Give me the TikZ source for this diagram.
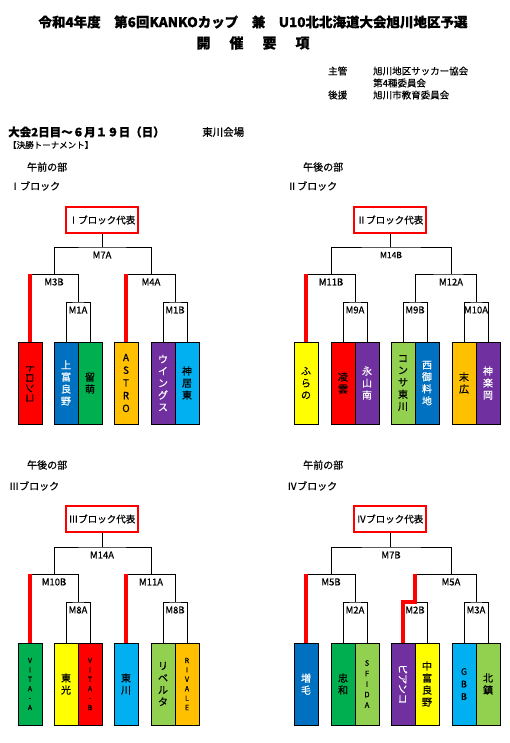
\documentclass[tikz,border=0pt]{standalone}
\usepackage{fontspec}
\setmainfont{Noto Sans CJK JP}[FakeBold=0.6]
\usepackage{graphicx}
\usepackage{tikz}
\definecolor{cred}{HTML}{FF0000}
\definecolor{cblue}{HTML}{0070C0}
\definecolor{cgreen}{HTML}{00B050}
\definecolor{corange}{HTML}{FFC000}
\definecolor{cpurple}{HTML}{7030A0}
\definecolor{ccyan}{HTML}{00B0F0}
\definecolor{cyellow}{HTML}{FFFF00}
\definecolor{clime}{HTML}{92D050}
\tikzset{
  ln/.style={line width=0.8pt,black},
  win/.style={line width=3.2pt,cred},
  team/.style={draw=black,line width=0.8pt,minimum width=24pt,minimum height=82pt,inner sep=0pt,align=center,font=\fontsize{10}{12}\selectfont},
  tw/.style={text=white},
  rep/.style={draw=cred,line width=2.6pt,minimum width=72pt,minimum height=26pt,inner sep=0pt,font=\fontsize{9.5}{11}\selectfont},
  mlab/.style={font=\fontsize{9.5}{11}\selectfont,yshift=-8pt,inner sep=0pt},
  hd/.style={anchor=west,inner sep=0pt,font=\fontsize{10}{12}\selectfont}
}
\begin{document}
\begin{tikzpicture}[x=1pt,y=-1pt]
\useasboundingbox (0,0) rectangle (510,743);
% heading
\node[font=\fontsize{13.5}{16}\bfseries] (title) at (253,22) {令和4年度　第6回KANKOカップ　兼　U10北北海道大会旭川地区予選};
\node[font=\fontsize{14}{16}\bfseries] (yoko) at (253,43) {開\hspace{19pt}催\hspace{19pt}要\hspace{19pt}項};
\node[hd,font=\fontsize{9.5}{11}\selectfont] (shukan) at (328,71) {主管};
\node[hd,font=\fontsize{9.5}{11}\selectfont] (kyokai) at (373,71) {旭川地区サッカー協会};
\node[hd,font=\fontsize{9.5}{11}\selectfont] (iinkai) at (373,83) {第4種委員会};
\node[hd,font=\fontsize{9.5}{11}\selectfont] (koen) at (328,95) {後援};
\node[hd,font=\fontsize{9.5}{11}\selectfont] (kyoiku) at (373,95) {旭川市教育委員会};
\node[hd,font=\fontsize{11.5}{13}\bfseries] (day) at (8,132) {大会2日目～６月１９日（日）};
\node[hd,font=\fontsize{10.5}{12}\selectfont] (venue) at (202,132) {東川会場};
\node[hd,font=\fontsize{8.5}{10}\selectfont] (kessho) at (8,145) {【決勝トーナメント】};
\node[hd] (am1) at (27,167) {午前の部};
\node[hd] (blk1) at (10,186) {Ⅰブロック};
\node[hd] (pm2) at (303,167) {午後の部};
\node[hd] (blk2) at (287,186) {Ⅱブロック};
\node[hd] (pm3) at (27,465) {午後の部};
\node[hd] (blk3) at (9,486) {Ⅲブロック};
\node[hd] (am4) at (303,465) {午前の部};
\node[hd] (blk4) at (287,486) {Ⅳブロック};

% I block
\node[rep] (rep1) at (102,220) {Ⅰブロック代表};
\node[team,fill=cred] (tronco) at (30,383) {\rotatebox{-90}{トロンコ}};
\node[team,fill=cblue,tw] (kamif) at (66,383) {上\\富\\良\\野};
\node[team,fill=cgreen] (rumoi) at (90,383) {留\\萌};
\node[team,fill=corange,font=\fontsize{10}{12.7}\selectfont] (astro) at (126,383) {A\\S\\T\\R\\O};
\node[team,fill=cpurple,tw] (wings) at (163,383) {ウ\\イ\\ン\\グ\\ス};
\node[team,fill=ccyan] (kamui) at (187,383) {神\\居\\東};
\coordinate (m1a) at (78,302);
\coordinate (m1b) at (175,302);
\coordinate (m3b) at (54,274);
\coordinate (m4a) at (151,274);
\coordinate (m7a) at (102,247);
\draw[ln] (kamif.north) |- (m1a) -| (rumoi.north);
\draw[ln] (wings.north) |- (m1b) -| (kamui.north);
\draw[ln] (tronco.north |- m3b) -| (m1a);
\draw[ln] (astro.north |- m4a) -| (m1b);
\draw[ln] (m3b) |- (m7a) -| (m4a);
\draw[ln] (rep1.south) -- (rep1.south |- m7a);
\draw[win] (tronco.north) -- (tronco.north |- m3b);
\draw[win] (astro.north) -- (astro.north |- m4a);
\node[mlab] (l1a) at (m1a) {M1A};
\node[mlab] (l1b) at (m1b) {M1B};
\node[mlab] (l3b) at (m3b) {M3B};
\node[mlab] (l4a) at (m4a) {M4A};
\node[mlab] (l7a) at (m7a) {M7A};

% II block
\node[rep] (rep2) at (390,220) {Ⅱブロック代表};
\node[team,fill=cyellow] (furano) at (306,383) {ふ\\ら\\の};
\node[team,fill=cred] (ryoun) at (343,383) {凌\\雲};
\node[team,fill=cpurple,tw] (nagayama) at (367,383) {永\\山\\南};
\node[team,fill=clime] (consa) at (403,383) {コ\\ン\\サ\\東\\川};
\node[team,fill=cblue,tw] (nishigo) at (427,383) {西\\御\\料\\地};
\node[team,fill=corange] (suehiro) at (464,383) {末\\広};
\node[team,fill=cpurple,tw] (kagura) at (488,383) {神\\楽\\岡};
\coordinate (m9a) at (355,302);
\coordinate (m9b) at (415,302);
\coordinate (m10a) at (476,302);
\coordinate (m11b) at (331,274);
\coordinate (m12a) at (451,274);
\coordinate (m14b) at (391,247);
\draw[ln] (ryoun.north) |- (m9a) -| (nagayama.north);
\draw[ln] (consa.north) |- (m9b) -| (nishigo.north);
\draw[ln] (suehiro.north) |- (m10a) -| (kagura.north);
\draw[ln] (furano.north |- m11b) -| (m9a);
\draw[ln] (m9b) |- (m12a) -| (m10a);
\draw[ln] (m11b) |- (m14b) -| (m12a);
\draw[ln] (rep2.south) -- (rep2.south |- m14b);
\draw[win] (furano.north) -- (furano.north |- m11b);
\node[mlab] (l9a) at (m9a) {M9A};
\node[mlab] (l9b) at (m9b) {M9B};
\node[mlab] (l10a) at (m10a) {M10A};
\node[mlab] (l11b) at (m11b) {M11B};
\node[mlab] (l12a) at (m12a) {M12A};
\node[mlab,font=\fontsize{8.5}{10}\selectfont] (l14b) at (m14b) {M14B};

% III block
\node[rep] (rep3) at (102,519) {Ⅲブロック代表};
\node[team,fill=cgreen,font=\fontsize{7}{9.4}\selectfont] (vitaa) at (30,684) {V\\I\\T\\A\\-\\A};
\node[team,fill=cyellow] (toukou) at (66,684) {東\\光};
\node[team,fill=cred,font=\fontsize{7}{9.4}\selectfont] (vitab) at (90,684) {V\\I\\T\\A\\-\\B};
\node[team,fill=ccyan] (higashi) at (126,684) {東\\川};
\node[team,fill=clime] (riberta) at (163,684) {リ\\ベ\\ル\\タ};
\node[team,fill=corange,font=\fontsize{7}{9.4}\selectfont] (rivale) at (187,684) {R\\I\\V\\A\\L\\E};
\coordinate (m8a) at (78,602);
\coordinate (m8b) at (175,602);
\coordinate (m10b) at (54,574);
\coordinate (m11a) at (151,574);
\coordinate (m14a) at (102,547);
\draw[ln] (toukou.north) |- (m8a) -| (vitab.north);
\draw[ln] (riberta.north) |- (m8b) -| (rivale.north);
\draw[ln] (vitaa.north |- m10b) -| (m8a);
\draw[ln] (higashi.north |- m11a) -| (m8b);
\draw[ln] (m10b) |- (m14a) -| (m11a);
\draw[ln] (rep3.south) -- (rep3.south |- m14a);
\draw[win] (vitaa.north) -- (vitaa.north |- m10b);
\draw[win] (higashi.north) -- (higashi.north |- m11a);
\node[mlab] (l8a) at (m8a) {M8A};
\node[mlab] (l8b) at (m8b) {M8B};
\node[mlab] (l10b) at (m10b) {M10B};
\node[mlab] (l11a) at (m11a) {M11A};
\node[mlab] (l14a) at (m14a) {M14A};

% IV block
\node[rep] (rep4) at (390,519) {Ⅳブロック代表};
\node[team,fill=cblue,tw] (mashike) at (306,684) {増\\毛};
\node[team,fill=cgreen] (chuwa) at (343,684) {忠\\和};
\node[team,fill=clime,font=\fontsize{7.5}{10.5}\selectfont] (sfida) at (367,684) {S\\F\\I\\D\\A};
\node[team,fill=cpurple,tw] (pianco) at (403,684) {\rotatebox{-90}{ピアンコ}};
\node[team,fill=cyellow] (nakaf) at (427,684) {中\\富\\良\\野};
\node[team,fill=ccyan,font=\fontsize{9}{12.5}\selectfont] (gbb) at (464,684) {G\\B\\B};
\node[team,fill=clime] (hokuchin) at (488,684) {北\\鎮};
\coordinate (m2a) at (355,602);
\coordinate (m2b) at (415,602);
\coordinate (m3a) at (476,602);
\coordinate (m5b) at (331,574);
\coordinate (m5a) at (451,574);
\coordinate (m7b) at (391,547);
\draw[ln] (chuwa.north) |- (m2a) -| (sfida.north);
\draw[ln] (m2b) -| (nakaf.north);
\draw[ln] (gbb.north) |- (m3a) -| (hokuchin.north);
\draw[ln] (mashike.north |- m5b) -| (m2a);
\draw[ln] (m2b |- m5a) -| (m3a);
\draw[ln] (m5b) |- (m7b) -| (m5a);
\draw[ln] (rep4.south) -- (rep4.south |- m7b);
\draw[win] (mashike.north) -- (mashike.north |- m5b);
\draw[win] (pianco.north) |- (m2b) -- (m2b |- m5a);
\node[mlab] (l2a) at (m2a) {M2A};
\node[mlab] (l2b) at (m2b) {M2B};
\node[mlab] (l3a) at (m3a) {M3A};
\node[mlab] (l5b) at (m5b) {M5B};
\node[mlab] (l5a) at (m5a) {M5A};
\node[mlab] (l7b) at (m7b) {M7B};
\end{tikzpicture}
\end{document}
